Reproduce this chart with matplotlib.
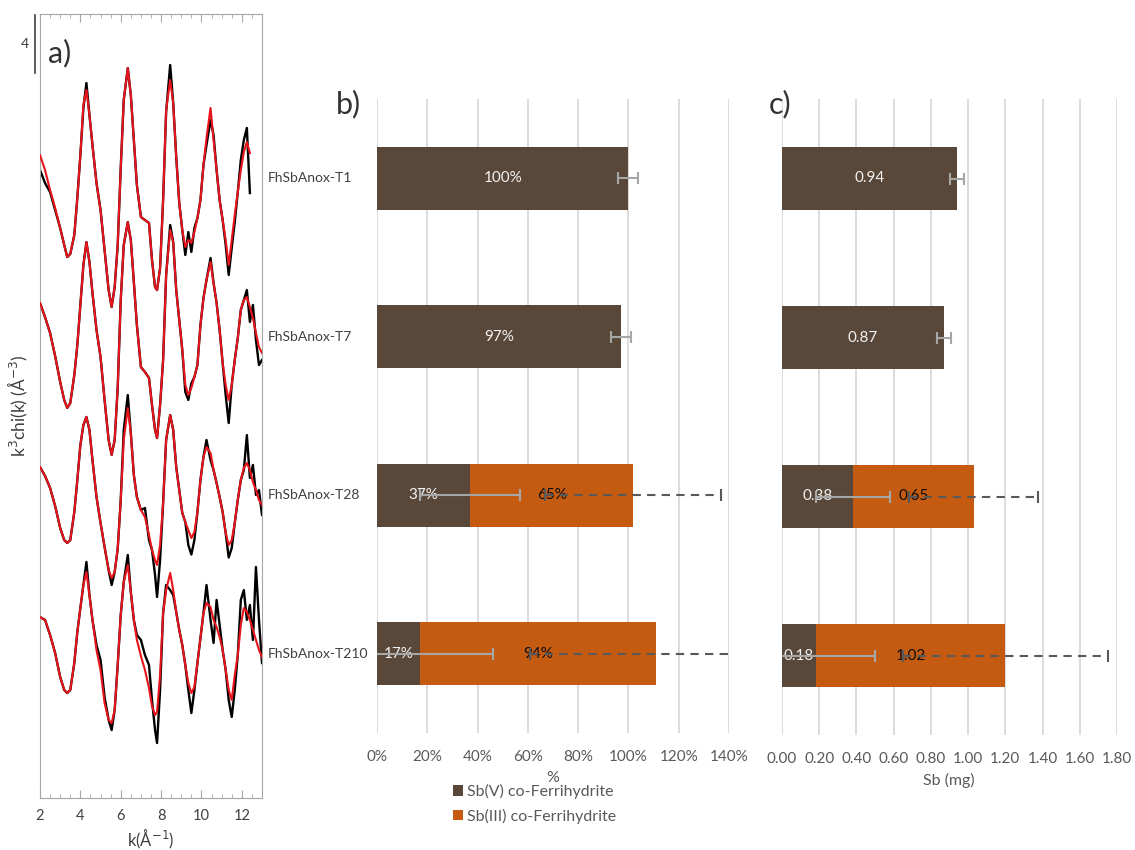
import numpy as np
import matplotlib
matplotlib.use('Agg')
import matplotlib.pyplot as plt
from matplotlib.transforms import blended_transform_factory
from matplotlib.patches import Patch

plt.rcParams['font.family'] = ['Lato', 'DejaVu Sans']

nan = np.nan
# ---------------- panel a data: k3chi(k) (data = black, fit = red) ----------------
k = [2.0, 2.25, 2.5, 2.75, 3.0, 3.2, 3.35, 3.5, 3.7, 3.85,
     4.0, 4.15, 4.3, 4.45, 4.6, 4.8, 5.0, 5.2, 5.4, 5.55,
     5.7, 5.85, 6.0, 6.15, 6.35, 6.5, 6.65, 6.8, 7.0, 7.2,
     7.4, 7.55, 7.7, 7.8, 7.95, 8.1, 8.25, 8.45, 8.6, 8.75,
     8.9, 9.05, 9.2, 9.35, 9.5, 9.65, 9.8, 9.95, 10.1, 10.25,
     10.45, 10.6, 10.75, 10.9, 11.05, 11.2, 11.35, 11.5, 11.65, 11.8,
     11.95, 12.1, 12.25, 12.4, 12.55, 12.7, 12.85, 13.0]

fit_T1 = [2.34, 1.31, -0.07, -1.31, -2.69, -3.86, -4.69, -4.48, -3.17, -0.62,
          2.34, 5.79, 6.83, 5.10, 3.03, 0.41, -1.45, -4.21, -6.97, -8.14,
          -6.76, -3.86, 1.45, 6.14, 8.34, 6.48, 3.38, 0.28, -1.93, -2.14,
          -2.34, -4.90, -6.76, -6.97, -5.45, -0.76, 5.45, 7.52, 5.93, 2.21,
          -0.97, -2.83, -4.00, -3.52, -3.72, -2.97, -2.00, -0.76, 1.66, 3.52,
          5.59, 3.38, 1.31, -0.76, -2.14, -3.52, -5.24, -3.52, -1.79, -0.21,
          1.31, 2.55, 3.24, 2.48, nan, nan, nan, nan]
data_T1 = [1.31, 0.41, -0.21, -1.45, -2.69, -3.86, -4.69, -4.48, -3.17, -0.62,
           2.34, 5.59, 7.31, 5.10, 3.03, 0.41, -1.45, -4.21, -6.97, -8.14,
           -6.76, -3.86, 1.45, 6.14, 8.34, 6.48, 3.38, 0.28, -1.93, -2.14,
           -2.34, -4.90, -6.76, -6.97, -5.45, -0.76, 5.31, 8.55, 5.93, 2.21,
           -0.97, -2.83, -4.55, -2.97, -4.34, -2.69, -2.00, -0.76, 1.66, 3.03,
           4.76, 3.72, 1.31, -0.76, -2.14, -3.86, -5.93, -4.07, -2.28, -0.21,
           2.00, 3.38, 4.21, -0.28, nan, nan, nan, nan]

fit_T7 = [2.14, 1.17, 0.07, -1.52, -3.31, -4.55, -5.10, -4.76, -2.83, -0.76,
          2.00, 4.76, 6.34, 4.97, 2.83, 0.28, -1.59, -4.55, -7.31, -8.34,
          -7.31, -3.72, 2.34, 6.14, 7.72, 6.48, 3.59, 0.62, -2.28, -2.62,
          -3.03, -4.90, -6.62, -7.17, -4.90, -1.79, 4.07, 7.17, 6.34, 3.03,
          0.97, -1.10, -3.52, -4.21, -3.72, -2.97, -2.14, 0.62, 2.48, 3.72,
          4.97, 3.52, 2.14, 0.28, -2.00, -3.52, -4.55, -3.52, -1.79, -0.28,
          1.66, 2.34, 2.55, 1.86, 1.10, 0.07, -0.90, -1.31]
data_T7 = [2.14, 1.17, 0.07, -1.52, -3.31, -4.55, -5.10, -4.76, -2.83, -0.76,
           2.00, 4.76, 6.34, 4.97, 2.83, 0.28, -1.59, -4.55, -7.31, -8.34,
           -7.31, -3.72, 2.34, 6.14, 7.72, 6.48, 3.59, 0.62, -2.28, -2.62,
           -3.03, -4.90, -6.62, -7.17, -4.90, -1.79, 4.07, 7.52, 6.34, 3.03,
           0.97, -1.10, -4.00, -4.55, -3.40, -2.97, -2.14, 0.62, 2.48, 3.72,
           5.24, 3.52, 2.14, 0.28, -2.00, -4.21, -6.14, -3.52, -1.79, -0.28,
           1.66, 2.34, 3.03, 0.83, 2.00, -0.41, -2.14, -1.79]

fit_T28 = [1.83, 1.21, 0.38, -0.86, -2.38, -3.21, -3.41, -3.21, -1.28, 0.93,
           3.34, 4.72, 5.28, 4.38, 2.31, -0.24, -2.03, -3.69, -5.28, -5.83,
           -5.41, -3.83, -0.45, 3.69, 5.90, 4.17, 1.28, -0.24, -1.14, -1.62,
           -2.86, -3.90, -4.59, -4.93, -3.55, -0.66, 3.69, 5.41, 4.38, 1.83,
           0.24, -1.34, -1.97, -2.52, -3.07, -2.66, -1.28, 0.93, 2.52, 3.21,
           2.79, 1.62, 0.72, -0.24, -1.28, -2.72, -3.55, -3.21, -2.03, -0.45,
           0.93, 1.76, 2.10, 1.62, 0.79, 0.24, -0.45, -0.79]
data_T28 = [1.83, 1.21, 0.38, -0.86, -2.38, -3.21, -3.41, -3.21, -1.28, 0.93,
            3.34, 4.72, 5.28, 4.38, 2.31, -0.24, -2.03, -3.69, -5.28, -6.31,
            -5.41, -3.83, -0.45, 4.38, 6.79, 4.17, 1.28, -0.24, -1.14, -1.00,
            -3.21, -3.90, -5.62, -7.14, -4.59, -0.66, 3.69, 5.41, 4.38, 1.83,
            0.24, -1.34, -1.97, -3.55, -4.21, -3.21, -1.28, 0.93, 2.52, 3.69,
            2.31, 1.62, 0.72, -0.24, -1.28, -2.72, -4.41, -3.76, -2.03, -0.45,
            0.93, 1.62, 4.03, 1.07, 1.97, -0.10, 0.24, -1.48]

fit_T210 = [1.98, 1.78, 0.74, -0.50, -2.16, -3.05, -3.26, -3.05, -1.19, 0.95,
            2.60, 4.19, 5.09, 3.50, 1.78, -0.29, -1.68, -3.95, -5.12, -5.33,
            -4.43, -1.33, 2.12, 4.40, 5.57, 3.71, 1.78, 0.40, -0.71, -1.67,
            -2.91, -4.16, -4.78, -4.57, -2.02, 2.26, 3.84, 5.02, 3.84, 2.33,
            1.09, 0.05, -1.33, -2.57, -3.26, -2.84, -1.19, 0.53, 2.26, 2.95,
            2.67, 1.78, 1.29, 0.60, -0.29, -1.67, -3.05, -3.74, -2.02, -0.64,
            1.43, 2.60, 2.33, 1.78, 1.09, 0.40, -0.29, -0.78]
data_T210 = [1.98, 1.78, 0.74, -0.50, -2.16, -3.05, -3.26, -3.05, -1.19, 0.95,
             2.60, 4.19, 5.78, 3.50, 1.78, 0.05, -0.98, -3.54, -5.12, -5.81,
             -4.43, -1.33, 2.12, 4.40, 6.26, 3.71, 1.78, 0.74, 0.40, -0.64,
             -1.33, -3.74, -5.81, -6.71, -3.05, 2.26, 4.19, 3.84, 3.50, 2.33,
             1.09, 0.05, -1.33, -3.05, -4.64, -3.05, -1.19, 0.53, 2.26, 4.19,
             1.78, 0.19, 3.16, 1.43, -0.29, -1.67, -3.74, -4.91, -3.05, -0.64,
             3.16, 3.84, 1.78, 2.81, 0.40, 5.43, 1.78, -1.19]

spectra_data = [data_T1, data_T7, data_T28, data_T210]
spectra_fit = [fit_T1, fit_T7, fit_T28, fit_T210]
offsets = [42, 32, 21, 10.5]

# ---------------- panels b, c data ----------------
samples = ['FhSbAnox-T1', 'FhSbAnox-T7', 'FhSbAnox-T28', 'FhSbAnox-T210']
series = ['Sb(V) co-Ferrihydrite', 'Sb(III) co-Ferrihydrite']
sbv_pct = [100, 97, 37, 17]
sbiii_pct = [0, 0, 65, 94]
sbv_pct_err = [4, 4, 20, 29]
sbiii_pct_err = [0, 0, 35, 50]
sbv_mg = [0.94, 0.87, 0.38, 0.18]
sbiii_mg = [0.0, 0.0, 0.65, 1.02]
sbv_mg_err = [0.037, 0.036, 0.20, 0.32]
sbiii_mg_err = [0.0, 0.0, 0.345, 0.55]
pct_ticks = [0, 20, 40, 60, 80, 100, 120, 140]
mg_ticks = [0.0, 0.2, 0.4, 0.6, 0.8, 1.0, 1.2, 1.4, 1.6, 1.8]

C_V = '#594839'
C_III = '#c55a11'
TXT = '#595959'

W, H = 1135, 850
fig = plt.figure(figsize=(W / 100, H / 100), dpi=100)


def rect(x0, y0, x1, y1):
    return [x0 / W, 1 - y1 / H, (x1 - x0) / W, (y1 - y0) / H]


# ---------------- panel a ----------------
axa = fig.add_axes(rect(40, 14, 262, 798))
for d, f, off in zip(spectra_data, spectra_fit, offsets):
    axa.plot(k, np.array(d) + off, color='black', lw=1.7, zorder=2,
             solid_joinstyle='round')
    axa.plot(k, np.array(f) + off, color='#e8141c', lw=1.5, zorder=3,
             solid_joinstyle='round')
axa.set_xlim(2, 13)
axa.set_ylim(0, 54.07)
axa.set_xticks([2, 4, 6, 8, 10, 12])
axa.set_xticks(np.arange(2.5, 13.0, 0.5), minor=True)
axa.set_yticks([])
axa.tick_params(axis='x', which='both', direction='in', top=True, bottom=True,
                color='#a6a6a6', labelsize=10.5, labelcolor='#404040', pad=8)
axa.tick_params(axis='x', which='major', length=6)
axa.tick_params(axis='x', which='minor', length=3)
for s in axa.spines.values():
    s.set_color('#a6a6a6')
axa.set_xlabel('k(Å$^{-1}$)', fontsize=12, color='#404040', labelpad=3)
axa.set_ylabel('k$^3$chi(k) (Å$^{-3}$)', fontsize=12.5, color='#404040')
axa.yaxis.set_label_coords(-0.045, 0.5)
tr = blended_transform_factory(axa.transAxes, axa.transData)
axa.plot([-0.0225, -0.0225], [50.0, 54.0], color='#404040', lw=1.2,
         transform=tr, clip_on=False)
axa.text(-0.068, 52.0, '4', transform=tr, ha='center', va='center',
         fontsize=10, color='#404040')
fig.text(48 / W, 1 - 53 / H, 'a)', fontsize=22, color='#333333', va='center', ha='left')

# ---------------- panels b and c ----------------
ypos = np.arange(len(samples))


def bar_panel(ax, v, iii, verr, iiierr, ticks, labels, fmt):
    ax.barh(ypos, v, height=0.4, color=C_V, zorder=2)
    ax.barh(ypos, iii, left=v, height=0.4, color=C_III, zorder=2)
    tot = np.array(v) + np.array(iii)
    for i in range(len(samples)):
        ax.errorbar(v[i], ypos[i], xerr=verr[i], fmt='none', ecolor='#a6a6a6',
                    elinewidth=1.5, capsize=4, capthick=1.5, zorder=4)
        if iii[i] > 0:
            eb = ax.errorbar(tot[i], ypos[i], xerr=iiierr[i], fmt='none',
                             ecolor='#595959', elinewidth=1.5, capsize=4,
                             capthick=1.5, zorder=4)
            eb[2][0].set_linestyle((0, (4, 3)))
        ax.text(v[i] / 2, ypos[i], fmt(v[i]), ha='center', va='center',
                fontsize=11, color='#f2f2f2', zorder=3)
        if iii[i] > 0:
            ax.text(v[i] + iii[i] / 2, ypos[i], fmt(iii[i]), ha='center',
                    va='center', fontsize=11, color='#0d0d0d', zorder=3)
    ax.set_xlim(ticks[0], ticks[-1])
    ax.set_ylim(len(samples) - 0.5, -0.5)
    ax.set_xticks(ticks)
    ax.set_xticklabels(labels)
    ax.set_yticks([])
    ax.grid(axis='x', color='#d9d9d9', lw=1.3, zorder=0)
    ax.set_axisbelow(True)
    for s in ax.spines.values():
        s.set_visible(False)
    ax.tick_params(axis='x', length=0, labelsize=11, labelcolor=TXT, pad=12)


axb = fig.add_axes(rect(377, 99, 729, 733))
bar_panel(axb, sbv_pct, sbiii_pct, sbv_pct_err, sbiii_pct_err, pct_ticks,
          ['%d%%' % t for t in pct_ticks], lambda x: '%d%%' % round(x))

axc = fig.add_axes(rect(782, 99, 1117, 735))
bar_panel(axc, sbv_mg, sbiii_mg, sbv_mg_err, sbiii_mg_err, mg_ticks,
          ['%.2f' % t for t in mg_ticks], lambda x: '%.2f' % x)

trb = blended_transform_factory(fig.transFigure, axb.transData)
for i, s in enumerate(samples):
    axb.text(268 / W, ypos[i], s, transform=trb, ha='left', va='center',
             fontsize=10, color='#404040')

fig.text(553 / W, 1 - 778 / H, '%', ha='center', va='center', fontsize=11.5, color=TXT)
fig.text(949 / W, 1 - 780 / H, 'Sb (mg)', ha='center', va='center', fontsize=11.5, color=TXT)
fig.text(336 / W, 1 - 104 / H, 'b)', fontsize=22, color='#333333', va='center', ha='left')
fig.text(769 / W, 1 - 104 / H, 'c)', fontsize=22, color='#333333', va='center', ha='left')

handles = [Patch(facecolor=C_V), Patch(facecolor=C_III)]
fig.legend(handles, series, loc='upper left', bbox_to_anchor=(453 / W, 1 - 784 / H),
           frameon=False, fontsize=11.5, labelcolor=TXT, handlelength=0.65,
           handleheight=0.65, handletextpad=0.25, labelspacing=0.6,
           borderaxespad=0, borderpad=0)

fig.savefig('out.png', dpi=100)
